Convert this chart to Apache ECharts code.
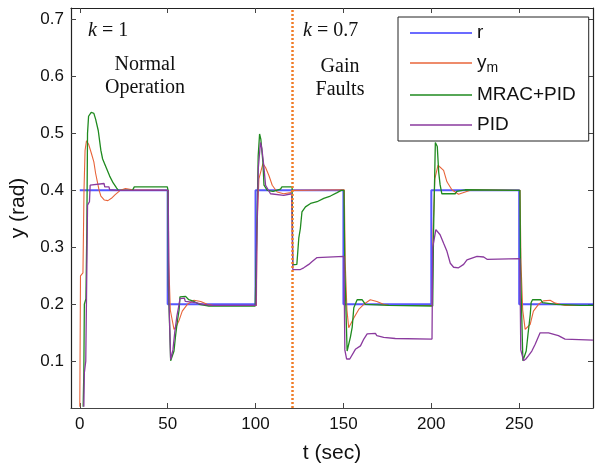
<!DOCTYPE html>
<html>
<head>
<meta charset="utf-8">
<script src="https://cdn.jsdelivr.net/npm/echarts@6/dist/echarts.min.js"></script>
<style>
html, body { margin: 0; padding: 0; background: #fff; }
#main { width: 595px; height: 469px; }
</style>
</head>
<body>
<div id="main"></div>
<script>
var myChart = echarts.init(document.getElementById('main'));

var xTicks = [0, 50, 100, 150, 200, 250];
var yTicks = [0.1, 0.2, 0.3, 0.4, 0.5, 0.6, 0.7];
var faultTime = 121;

// reference input r
var rData = [[0, 0.4], [50, 0.4], [50, 0.2], [100, 0.2], [100, 0.4], [150, 0.4], [150, 0.2],
	[200, 0.2], [200, 0.4], [250, 0.4], [250, 0.2], [292, 0.2]];

// reference model output y_m
var ymData = [[0, 0.02], [0.4, 0.25], [1.8, 0.255], [2.4, 0.4], [3, 0.47], [3.8, 0.487], [5, 0.481],
	[6.5, 0.466], [8, 0.45], [9, 0.43], [10, 0.415], [11, 0.4], [12, 0.39], [14, 0.383], [16, 0.382],
	[18, 0.386], [20, 0.392], [23, 0.4], [26, 0.403], [30, 0.401], [50.3, 0.4],
	[50.6, 0.275], [51.5, 0.19], [53.6, 0.156], [55, 0.162], [56.4, 0.171], [58.3, 0.188], [61.2, 0.2],
	[65, 0.207], [68.8, 0.205], [72.5, 0.2], [76, 0.198], [100.5, 0.198],
	[100.8, 0.33], [101.9, 0.42], [104.2, 0.447], [105.7, 0.44], [107.6, 0.426], [109.5, 0.409],
	[112.3, 0.397], [116, 0.394], [120, 0.396], [121, 0.4], [150.5, 0.401],
	[151, 0.275], [152, 0.19], [153, 0.159], [155.9, 0.176], [158.7, 0.191], [161.6, 0.2], [165.3, 0.208],
	[169, 0.205], [172.8, 0.2], [176, 0.198], [200.5, 0.198],
	[201, 0.33], [202, 0.42], [203.8, 0.444], [207, 0.435], [208.9, 0.415], [211.7, 0.401], [215.5, 0.393],
	[219.3, 0.397], [223, 0.401], [250.5, 0.4],
	[251, 0.275], [252, 0.19], [253.4, 0.156], [256.3, 0.165], [258.1, 0.188], [261, 0.2], [263.8, 0.206],
	[267.6, 0.207], [270.5, 0.202], [276.1, 0.198], [292, 0.198]];

// MRAC+PID output
var mracData = [[1.9, 0.02], [2.3, 0.08], [2.6, 0.2], [3.5, 0.21], [4, 0.33], [4.4, 0.5], [5, 0.53],
	[6.5, 0.537], [8, 0.535], [9, 0.525], [10.5, 0.505], [12, 0.47], [13, 0.455], [15, 0.44], [17, 0.425],
	[19, 0.413], [21, 0.404], [22, 0.4], [30, 0.4], [31, 0.406], [49.8, 0.406], [50.2, 0.4],
	[50.4, 0.234], [51.7, 0.101], [53.6, 0.118], [54.5, 0.145], [55.5, 0.17], [56.5, 0.19], [57, 0.213],
	[60.2, 0.214], [62, 0.208], [65, 0.205], [68, 0.2], [73.5, 0.197], [99.8, 0.197],
	[100.6, 0.31], [101.5, 0.46], [102.3, 0.499], [103, 0.49], [104.2, 0.449], [104.8, 0.409],
	[106.7, 0.4], [110, 0.398], [114.2, 0.402], [115, 0.406], [120.8, 0.406],
	[121.2, 0.269], [123.5, 0.27], [124.6, 0.316], [125.5, 0.333], [126.4, 0.362], [128.4, 0.371],
	[131.3, 0.377], [135, 0.38], [138.8, 0.386], [142.6, 0.39], [146.4, 0.396], [148.7, 0.4], [150.3, 0.4],
	[150.8, 0.26], [152.1, 0.118], [154, 0.143], [155, 0.16], [155.9, 0.194], [157.8, 0.208],
	[160.6, 0.208], [162.5, 0.2], [175.8, 0.198], [200.8, 0.197],
	[201.3, 0.33], [202.3, 0.484], [203.4, 0.477], [204.2, 0.432], [205, 0.41], [206, 0.394],
	[213.6, 0.394], [214.5, 0.398], [219.3, 0.401], [250.4, 0.4],
	[250.8, 0.26], [252.1, 0.101], [254, 0.118], [255, 0.147], [256.3, 0.182], [256.8, 0.203],
	[257.6, 0.208], [262.3, 0.208], [263.3, 0.203], [270.9, 0.2], [284.7, 0.198], [292, 0.198]];

// PID output
var pidData = [[2.3, 0.02], [2.6, 0.08], [3.4, 0.1], [4, 0.26], [4.4, 0.374], [5.5, 0.38], [5.9, 0.409],
	[7, 0.412], [13.8, 0.412], [14.2, 0.406], [16.6, 0.406], [17, 0.401], [21.4, 0.4], [50.3, 0.4],
	[50.8, 0.2], [51.7, 0.103], [53, 0.12], [54, 0.15], [55.3, 0.18], [56.5, 0.2], [57, 0.21],
	[59.5, 0.211], [60, 0.205], [66, 0.203], [70, 0.2], [75, 0.198], [100.3, 0.198],
	[100.8, 0.33], [101.6, 0.44], [102.8, 0.484], [103.6, 0.473], [104.7, 0.443], [105.7, 0.409],
	[108.5, 0.394], [116, 0.391], [120.5, 0.394],
	[121.2, 0.261], [125.5, 0.261], [127.4, 0.264], [130.3, 0.27], [132.2, 0.275], [135, 0.282],
	[136, 0.284], [150.3, 0.284],
	[150.8, 0.12], [151.8, 0.104], [153.6, 0.104], [156.8, 0.121], [159.7, 0.127], [161.6, 0.139],
	[163.5, 0.148], [168.2, 0.149], [169, 0.145], [172.9, 0.142], [179.5, 0.14], [200.4, 0.139],
	[200.8, 0.3], [202.6, 0.331], [205, 0.322], [207, 0.307], [208.9, 0.293], [210.8, 0.272],
	[212.7, 0.265], [215.5, 0.264], [218.4, 0.27], [220.3, 0.278], [226, 0.284], [229.8, 0.283],
	[231.7, 0.279], [250.4, 0.28],
	[250.9, 0.12], [252.5, 0.101], [253.8, 0.104], [255.3, 0.11], [257.2, 0.118], [259.1, 0.13],
	[261.9, 0.15], [262.9, 0.152], [266.7, 0.15], [272.3, 0.145], [276.1, 0.139], [292, 0.137]];

var sansFont = '"Liberation Sans", Arial, sans-serif';
var serifFont = '"Liberation Serif", "Times New Roman", serif';

function lineSeries(name, data, color, width, opacity) {
	return {
		name: name,
		type: 'line',
		data: data,
		symbol: 'none',
		showSymbol: false,
		animation: false,
		lineStyle: { color: color, width: width, opacity: opacity },
		itemStyle: { color: color }
	};
}

var series = [
	lineSeries('r', rData, '#3a3aff', 2, 0.85),
	lineSeries('ym', ymData, '#e8643a', 1.1, 1),
	lineSeries('MRAC+PID', mracData, '#1f8a1f', 1.3, 1),
	lineSeries('PID', pidData, '#8a3a9e', 1.3, 1)
];
series[0].markLine = {
	silent: true,
	symbol: 'none',
	label: { show: false },
	lineStyle: { color: '#f07c28', width: 2.5, type: [2, 2], opacity: 1 },
	data: [{ xAxis: faultTime }]
};

option = {
	backgroundColor: '#fff',
	animation: false,
	grid: { left: 71, right: 2, top: 8, bottom: 58 },
	legend: {
		left: 398,
		top: 17,
		orient: 'vertical',
		data: ['r', 'ym', 'MRAC+PID', 'PID'],
		icon: 'rect',
		itemWidth: 62,
		itemHeight: 1.5,
		itemGap: 10,
		padding: [6, 13, 6, 12],
		borderColor: '#222',
		borderWidth: 1,
		backgroundColor: '#fff',
		formatter: function (name) {
			return name === 'ym' ? '{n|y}{s|m}' : '{n|' + name + '}';
		},
		textStyle: {
			color: '#111',
			fontFamily: sansFont,
			fontSize: 19,
			lineHeight: 20,
			rich: {
				n: { fontSize: 19, fontFamily: sansFont, color: '#111', lineHeight: 20 },
				s: { fontSize: 14, fontFamily: sansFont, color: '#111', padding: [10, 0, 0, 0] }
			}
		}
	},
	xAxis: [{
		type: 'value',
		min: -5,
		max: 292,
		name: 't (sec)',
		nameLocation: 'middle',
		nameGap: 35,
		nameTextStyle: { fontSize: 21, fontFamily: sansFont, color: '#111' },
		axisLine: { onZero: false, lineStyle: { color: '#444', width: 1.2 } },
		axisTick: { inside: true, length: 5, customValues: xTicks, lineStyle: { color: '#444' } },
		axisLabel: { customValues: xTicks, fontSize: 17, fontFamily: sansFont, color: '#111', margin: 8 },
		splitLine: { show: false }
	}, {
		type: 'value',
		position: 'top',
		min: -5,
		max: 292,
		axisLine: { onZero: false, lineStyle: { color: '#222', width: 1.2 } },
		axisTick: { inside: true, length: 5, customValues: xTicks, lineStyle: { color: '#444' } },
		axisLabel: { show: false },
		splitLine: { show: false }
	}],
	yAxis: [{
		type: 'value',
		min: 0.018,
		max: 0.72,
		name: 'y (rad)',
		nameLocation: 'middle',
		nameGap: 42,
		nameTextStyle: { fontSize: 21, fontFamily: sansFont, color: '#111' },
		axisLine: { show: true, onZero: false, lineStyle: { color: '#222', width: 1.2 } },
		axisTick: { show: true, inside: true, length: 5, customValues: yTicks, lineStyle: { color: '#444' } },
		axisLabel: {
			customValues: yTicks, fontSize: 17, fontFamily: sansFont, color: '#111', margin: 7,
			formatter: function (v) { return v.toFixed(1); }
		},
		splitLine: { show: false }
	}, {
		type: 'value',
		position: 'right',
		min: 0.018,
		max: 0.72,
		axisLine: { show: true, onZero: false, lineStyle: { color: '#222', width: 1.2 } },
		axisTick: { show: true, inside: true, length: 5, customValues: yTicks, lineStyle: { color: '#444' } },
		axisLabel: { show: false },
		splitLine: { show: false }
	}],
	graphic: [
		{ type: 'text', x: 88, y: 21, style: { text: '{i|k} = 1', font: '20px ' + serifFont, fill: '#111',
			rich: { i: { fontStyle: 'italic', fontSize: 20, fontFamily: serifFont } } } },
		{ type: 'text', x: 145, y: 53, style: { text: 'Normal\nOperation', font: '20px ' + serifFont,
			fill: '#111', align: 'center', verticalAlign: 'top', lineHeight: 23 } },
		{ type: 'text', x: 303, y: 21, style: { text: '{i|k} = 0.7', font: '20px ' + serifFont, fill: '#111',
			rich: { i: { fontStyle: 'italic', fontSize: 20, fontFamily: serifFont } } } },
		{ type: 'text', x: 340, y: 55, style: { text: 'Gain\nFaults', font: '20px ' + serifFont,
			fill: '#111', align: 'center', verticalAlign: 'top', lineHeight: 23 } }
	],
	series: series
};

myChart.setOption(option);
window.onresize = myChart.resize;
</script>
</body>
</html>
